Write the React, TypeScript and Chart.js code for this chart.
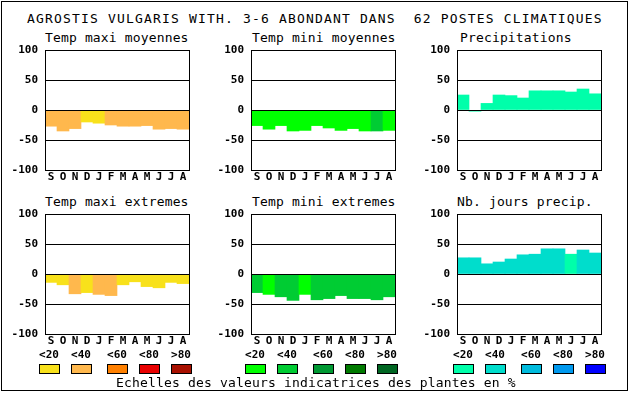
import React, { useEffect, useRef } from "react";
import Chart from "chart.js/auto";

const MONTHS = ["S", "O", "N", "D", "J", "F", "M", "A", "M", "J", "J", "A"];
const SCALE_LABELS = ["<20", "<40", "<60", "<80", ">80"];

const ORANGES = ["#f8e11b", "#ffb84d", "#ff8000", "#e80000", "#a81000"];
const GREENS = ["#00ff00", "#00cc33", "#009933", "#007a00", "#006622"];
const BLUES = ["#00ffaa", "#00ddcc", "#00bbdd", "#0099ee", "#0000ff"];

const maxiMoy = [-27, -35, -31, -20, -22, -25, -27, -27, -26, -32, -31, -32];
const maxiMoyClass = [1, 1, 1, 0, 0, 1, 1, 1, 1, 1, 1, 1];
const miniMoy = [-26, -32, -26, -35, -34, -26, -30, -34, -31, -35, -35, -34];
const miniMoyClass = [0, 0, 0, 0, 0, 0, 0, 0, 0, 0, 1, 0];
const precip = [25, -2, 11, 25, 24, 20, 32, 32, 32, 30, 35, 27];
const precipClass = [0, 0, 0, 0, 0, 0, 0, 0, 0, 0, 0, 0];
const maxiExt = [-14, -18, -33, -31, -34, -36, -18, -13, -21, -23, -14, -16];
const maxiExtClass = [0, 0, 1, 0, 1, 1, 0, 0, 0, 0, 0, 0];
const miniExt = [-31, -34, -38, -44, -34, -43, -41, -36, -41, -41, -43, -38];
const miniExtClass = [1, 0, 1, 1, 0, 1, 1, 1, 1, 1, 1, 1];
const joursPrecip = [27, 27, 17, 20, 25, 32, 33, 42, 42, 33, 40, 35];
const joursClass = [1, 1, 1, 1, 1, 1, 1, 1, 1, 0, 1, 1];

const MAIN_TITLE = "AGROSTIS VULGARIS WITH. 3-6 ABONDANT DANS  62 POSTES CLIMATIQUES";
const CAPTION = "Echelles des valeurs indicatrices des plantes en %";

const MONO = "'DejaVu Sans Mono', monospace";

const framePlugin = {
  id: "frame",
  afterDraw(chart: any) {
    const { ctx, chartArea } = chart;
    ctx.save();
    ctx.strokeStyle = "#000";
    ctx.lineWidth = 1;
    ctx.strokeRect(
      Math.round(chartArea.left) + 0.5,
      Math.round(chartArea.top) + 0.5,
      Math.round(chartArea.right) - Math.round(chartArea.left),
      Math.round(chartArea.bottom) - Math.round(chartArea.top)
    );
    ctx.restore();
  },
};

type PanelProps = {
  title: string;
  values: number[];
  classes: number[];
  palette: string[];
  plotLeft: number;
  plotTop: number;
  titleLeft: number;
};

function Panel({ title, values, classes, palette, plotLeft, plotTop, titleLeft }: PanelProps) {
  const ref = useRef<HTMLCanvasElement | null>(null);
  useEffect(() => {
    if (!ref.current) return;
    const font = { family: MONO, size: 11, weight: "bold" as const };
    const chart = new Chart(ref.current, {
      type: "bar",
      data: {
        labels: MONTHS,
        datasets: [
          {
            data: values,
            backgroundColor: classes.map((c) => palette[c]),
            borderWidth: 0,
            categoryPercentage: 1,
            barPercentage: 1,
          },
        ],
      },
      options: {
        animation: false,
        responsive: false,
        maintainAspectRatio: false,
        devicePixelRatio: 1,
        layout: { padding: { top: 8, right: 2, left: 0, bottom: 0 } },
        plugins: {
          legend: { display: false },
          tooltip: { enabled: false },
        },
        scales: {
          x: {
            grid: { display: false, drawTicks: false },
            border: { display: false },
            ticks: { color: "#000", font, padding: 1, maxRotation: 0, autoSkip: false },
            afterFit: (s: any) => {
              s.height = 16;
              s.paddingLeft = 0;
              s.paddingRight = 0;
            },
          },
          y: {
            min: -100,
            max: 100,
            ticks: { stepSize: 50, color: "#000", font, padding: 7 },
            grid: { color: "#000", lineWidth: 1, drawTicks: false, z: 1 },
            border: { display: false },
            afterFit: (s: any) => {
              s.width = 40;
              s.paddingTop = 0;
              s.paddingBottom = 0;
            },
          },
        },
      },
      plugins: [framePlugin],
    });
    return () => chart.destroy();
  }, []);
  return (
    <>
      <div
        style={{
          position: "absolute",
          left: titleLeft,
          top: plotTop - 19,
          fontFamily: MONO,
          fontSize: 13,
          lineHeight: "13px",
          letterSpacing: "0.15px",
          whiteSpace: "pre",
          color: "#000",
        }}
      >
        {title}
      </div>
      <canvas
        ref={ref}
        width={186}
        height={144}
        style={{ position: "absolute", left: plotLeft - 40, top: plotTop - 8, width: 186, height: 144 }}
      />
    </>
  );
}

function LegendGroup({ palette, left }: { palette: string[]; left: number }) {
  const offsets = [0, 32, 68, 100, 132];
  return (
    <>
      {palette.map((c, i) => (
        <React.Fragment key={i}>
          <div
            style={{
              position: "absolute",
              left: left + offsets[i] - 10,
              width: 40,
              top: 349,
              textAlign: "center",
              fontFamily: MONO,
              fontWeight: "bold",
              fontSize: 11,
              lineHeight: "11px",
              whiteSpace: "pre",
              color: "#000",
            }}
          >
            {SCALE_LABELS[i]}
          </div>
          <div
            style={{
              position: "absolute",
              left: left + offsets[i],
              top: 364,
              width: 21,
              height: 10,
              boxSizing: "border-box",
              border: "1px solid #000",
              background: c,
            }}
          />
        </React.Fragment>
      ))}
    </>
  );
}

export default function App() {
  useEffect(() => {
    document.body.style.margin = "0";
  }, []);
  return (
    <div style={{ position: "absolute", left: 0, top: 0, width: 630, height: 394, background: "#fff", overflow: "hidden" }}>
      <div
        style={{
          position: "absolute",
          left: 1,
          top: 1,
          width: 627,
          height: 390,
          boxSizing: "border-box",
          border: "1px solid #000",
        }}
      />
      <div
        style={{
          position: "absolute",
          left: 27,
          top: 12,
          fontFamily: MONO,
          fontSize: 13,
          lineHeight: "13px",
          letterSpacing: "1.17px",
          whiteSpace: "pre",
          color: "#000",
        }}
      >
        {MAIN_TITLE}
      </div>
      <Panel title="Temp maxi moyennes" values={maxiMoy} classes={maxiMoyClass} palette={ORANGES} plotLeft={45} plotTop={50} titleLeft={45} />
      <Panel title="Temp mini moyennes" values={miniMoy} classes={miniMoyClass} palette={GREENS} plotLeft={251} plotTop={50} titleLeft={252} />
      <Panel title="Precipitations" values={precip} classes={precipClass} palette={BLUES} plotLeft={457} plotTop={50} titleLeft={460} />
      <Panel title="Temp maxi extremes" values={maxiExt} classes={maxiExtClass} palette={ORANGES} plotLeft={45} plotTop={214} titleLeft={45} />
      <Panel title="Temp mini extremes" values={miniExt} classes={miniExtClass} palette={GREENS} plotLeft={251} plotTop={214} titleLeft={252} />
      <Panel title="Nb. jours precip." values={joursPrecip} classes={joursClass} palette={BLUES} plotLeft={457} plotTop={214} titleLeft={457} />
      <LegendGroup palette={ORANGES} left={39} />
      <LegendGroup palette={GREENS} left={245} />
      <LegendGroup palette={BLUES} left={453} />
      <div
        style={{
          position: "absolute",
          left: 116,
          top: 376,
          fontFamily: MONO,
          fontSize: 13,
          lineHeight: "13px",
          letterSpacing: "0.17px",
          whiteSpace: "pre",
          color: "#000",
        }}
      >
        {CAPTION}
      </div>
    </div>
  );
}
